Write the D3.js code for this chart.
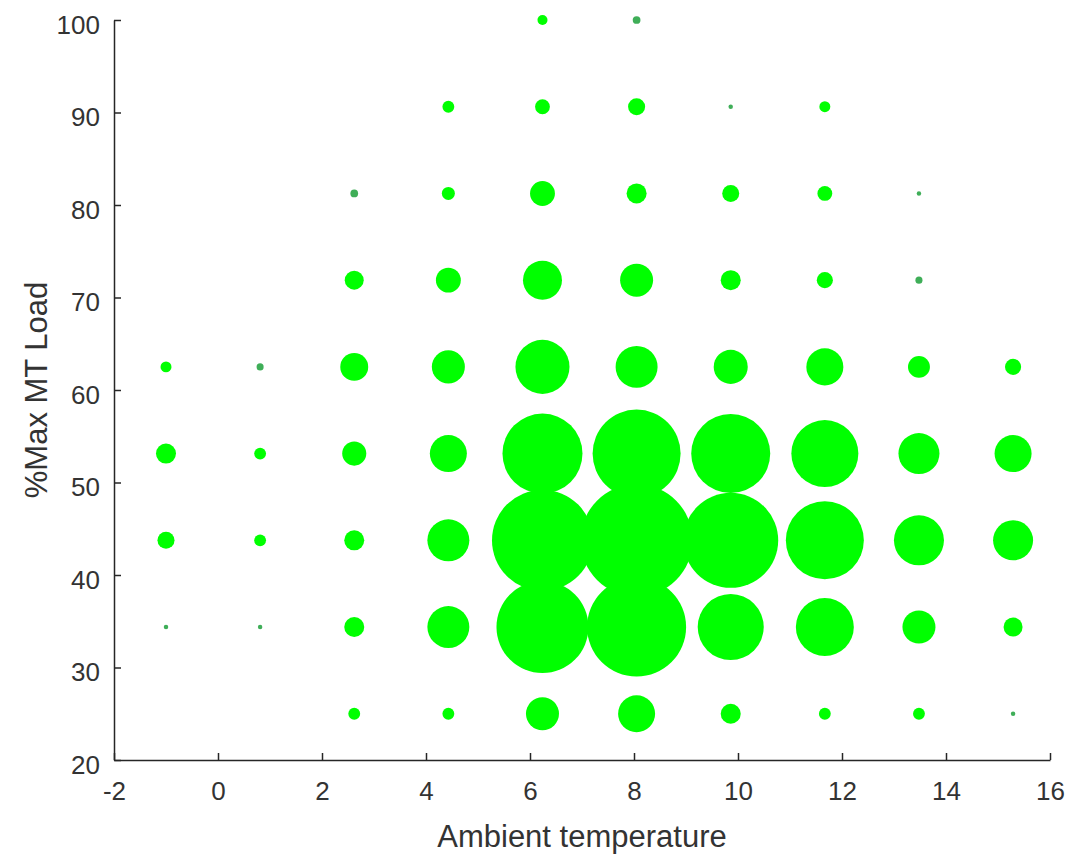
<!DOCTYPE html>
<html>
<head>
<meta charset="utf-8">
<script src="https://cdn.jsdelivr.net/npm/d3@7"></script>
<style>
  html, body { margin: 0; padding: 0; background: #fff; }
  svg { display: block; }
  text { font-family: "Liberation Sans", Arial, Helvetica, sans-serif; fill: #262626; }
</style>
</head>
<body>
<svg id="chart" width="1069" height="854"></svg>
<script>
// Ambient temperature bins (x) and %Max MT Load bins (y)
const tempBins = [-1, 0.81, 2.62, 4.43, 6.24, 8.05, 9.86, 11.67, 13.48, 15.29];
const loadBins = [25, 34.375, 43.75, 53.125, 62.5, 71.875, 81.25, 90.625, 100];
// Bubble size values (relative counts) for each load bin, across temperature bins
const load25  = [0, 0, 14, 14, 109, 137, 40, 14, 14, 2];
const load34  = [2, 2, 40, 176, 846, 980, 436, 336, 109, 36];
const load44  = [29, 14, 40, 176, 1020, 1254, 902, 608, 250, 160];
const load53  = [40, 14, 58, 137, 640, 774, 624, 449, 168, 137];
const load63  = [12, 5, 78, 109, 292, 176, 116, 137, 48, 26];
const load72  = [0, 0, 36, 62, 152, 109, 40, 26, 5, 0];
const load81  = [0, 0, 6, 17, 62, 40, 29, 22, 2, 0];
const load91  = [0, 0, 0, 14, 22, 29, 2, 12, 0, 0];
const load100 = [0, 0, 0, 0, 10, 6, 0, 0, 0, 0];
const seriesRows = [load25, load34, load44, load53, load63, load72, load81, load91, load100];
const xTicks = [-2, 0, 2, 4, 6, 8, 10, 12, 14, 16];
const yTicks = [20, 30, 40, 50, 60, 70, 80, 90, 100];

(function () {
const svg = d3.select("#chart");
const mLeft = 114, mRight = 1050, mTop = 20, mBottom = 760;

const x = d3.scaleLinear().domain([-2, 16]).range([mLeft, mRight]);
const y = d3.scaleLinear().domain([20, 100]).range([mBottom, mTop]);
const maxVal = d3.max(seriesRows, row => d3.max(row));
const r = d3.scaleSqrt().domain([0, maxVal]).range([0, 56]);

const points = [];
seriesRows.forEach((row, i) => {
  row.forEach((v, j) => {
    if (v > 0) points.push({ t: tempBins[j], l: loadBins[i], v });
  });
});
points.sort((a, b) => b.v - a.v);

svg.append("g").selectAll("circle")
  .data(points)
  .enter().append("circle")
  .attr("cx", d => x(d.t))
  .attr("cy", d => y(d.l))
  .attr("r", d => Math.max(r(d.v), 1.8))
  .attr("fill", d => r(d.v) < 5 ? "#3fae58" : "#00ff00");

const axisColor = "#262626";
const tickColor = "#333333";
const fmt = d => String(d);
const xAxis = d3.axisBottom(x).tickValues(xTicks).tickFormat(fmt)
  .tickSizeInner(-7).tickSizeOuter(0).tickPadding(22);
const gx = svg.append("g").attr("transform", `translate(0,${mBottom})`).call(xAxis);
gx.select(".domain").attr("stroke", axisColor).attr("stroke-width", 1.5);
gx.selectAll(".tick line").attr("stroke", axisColor).attr("stroke-width", 1.5);
gx.selectAll(".tick text").attr("font-size", 26).style("fill", tickColor)
  .attr("font-family", "Liberation Sans, Arial, sans-serif");

const yAxis = d3.axisLeft(y).tickValues(yTicks).tickFormat(fmt)
  .tickSizeInner(-7).tickSizeOuter(0).tickPadding(14);
const gy = svg.append("g").attr("transform", `translate(${mLeft},0)`).call(yAxis);
gy.select(".domain").attr("stroke", axisColor).attr("stroke-width", 1.5);
gy.selectAll(".tick line").attr("stroke", axisColor).attr("stroke-width", 1.5);
gy.selectAll(".tick text").attr("font-size", 26).attr("dy", "0.5em").style("fill", tickColor)
  .attr("font-family", "Liberation Sans, Arial, sans-serif");

svg.append("text")
  .attr("x", (mLeft + mRight) / 2)
  .attr("y", 847)
  .attr("text-anchor", "middle")
  .attr("font-size", 31)
  .style("fill", tickColor)
  .text("Ambient temperature");

svg.append("text")
  .attr("transform", `translate(47,${(mTop + mBottom) / 2}) rotate(-90)`)
  .attr("text-anchor", "middle")
  .attr("font-size", 31)
  .style("fill", tickColor)
  .text("%Max MT Load");
})();
</script>
</body>
</html>
